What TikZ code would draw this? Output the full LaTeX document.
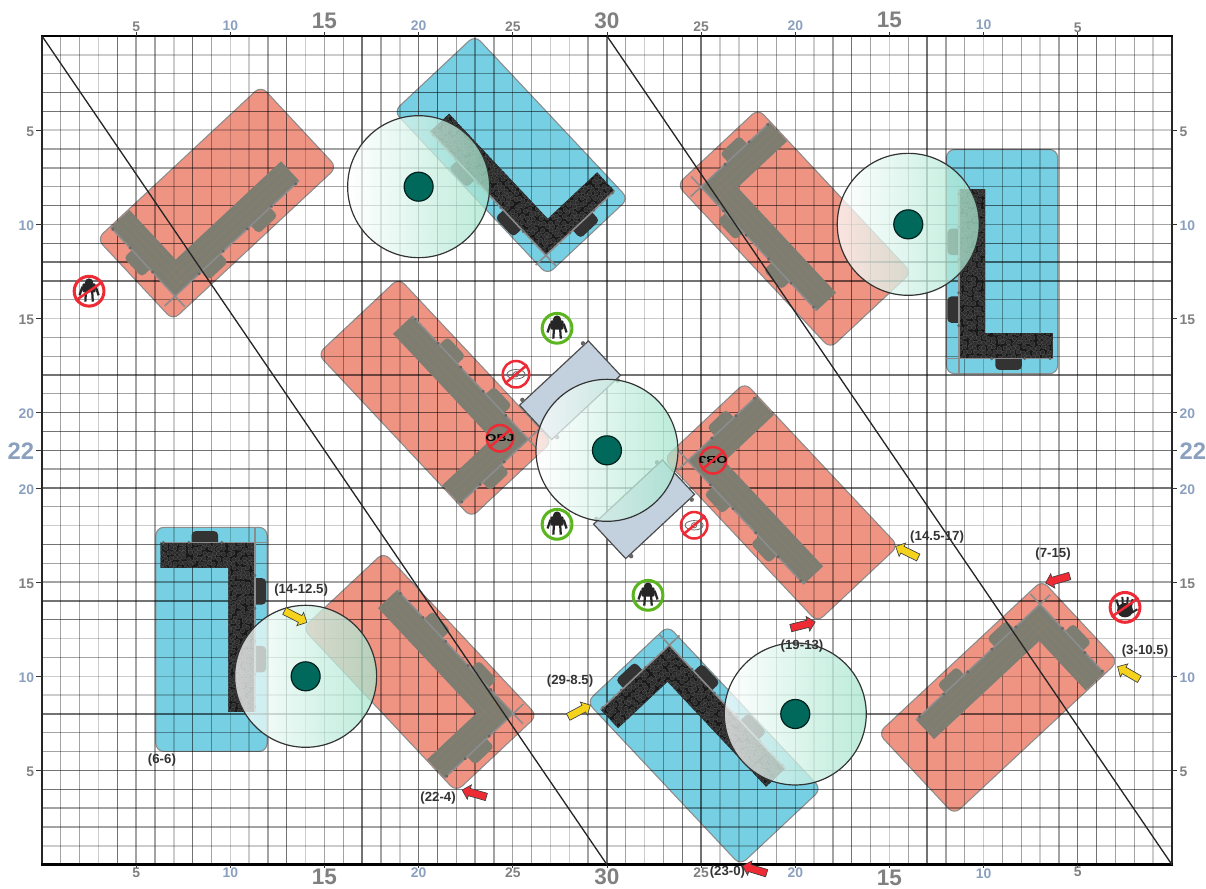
\documentclass[tikz,border=0pt]{standalone}
\usepackage{fontspec}
\setmainfont{Liberation Sans}
\usepackage{xcolor}
\usetikzlibrary{shapes.arrows}

\definecolor{salmon}{HTML}{EF9383}
\definecolor{lagoon}{HTML}{76CFE2}
\definecolor{numgray}{HTML}{808080}
\definecolor{numblue}{HTML}{8BA0BE}
\definecolor{darkteal}{HTML}{00695C}
\definecolor{mint}{HTML}{A6E5CE}
\definecolor{slab}{HTML}{C3D1DF}
\definecolor{floorgray}{HTML}{7D7D72}
\definecolor{flagred}{HTML}{EE2A35}
\definecolor{flaggreen}{HTML}{5AB51E}
\definecolor{flagyellow}{HTML}{F5D31C}

\tikzset{
  numsmall/.style={font=\bfseries\fontsize{10.5}{11}\selectfont, text=numgray, inner sep=0},
  numtint/.style={font=\bfseries\fontsize{10.5}{11}\selectfont, text=numblue, inner sep=0},
  numbig/.style={font=\bfseries\fontsize{17}{18}\selectfont, text=numgray, inner sep=0},
  numbigtint/.style={font=\bfseries\fontsize{18}{19}\selectfont, text=numblue, inner sep=0},
  poslabel/.style={font=\bfseries\fontsize{10}{11}\selectfont, text=black!80, inner sep=0},
  gridlight/.style={black, opacity=.2, line width=1.1pt},
  gridmid/.style={black, opacity=.36, line width=1pt},
  griddark/.style={black, opacity=.55, line width=1pt},
  okring/.style={circle, draw=flaggreen, line width=2.3pt, minimum size=22.5pt, inner sep=0},
  noring/.style={circle, draw=flagred, line width=2.3pt, minimum size=22.5pt, inner sep=0},
  nosmall/.style={circle, draw=flagred, line width=1.9pt, minimum size=20pt, inner sep=0},
  bar/.style={flagred, line width=1.9pt},
  marker/.style={single arrow, draw=black!75, line width=.5pt, inner xsep=0, inner ysep=2.6pt,
    minimum height=19pt, single arrow head extend=2.8pt},
  walker/.pic={
    \fill[black!85, rounded corners=1pt] (-.32,-.38) rectangle (.32,.06);
    \fill[black!85] (0,-.42) circle (.2);
    \draw[black!85, line width=1.7pt] (-.32,-.22) -- (-.46,.2) (.32,-.22) -- (.46,.2)
      (-.15,0) -- (-.18,.5) (.15,0) -- (.18,.5);
  },
  handprint/.pic={
    \fill[black!85] (0,.15) ellipse (.42 and .38);
    \draw[black!85, line width=1.5pt] (-.32,.05) -- (-.46,-.42) (-.11,0) -- (-.14,-.56)
      (.11,0) -- (.14,-.56) (.3,.05) -- (.4,-.44) (.32,.3) -- (.66,.1);
  },
  eyemark/.pic={
    \draw[black!60, line width=.6pt] (0,0) ellipse (.48 and .25);
    \draw[black!60, line width=.6pt] (0,0) circle (.14);
  }
}

\def\redlist{9.29/8.87/43, 39.94/10.23/-46.9, 20.87/19.21/133.2, 39.25/24.76/-46.8, 20.07/33.77/133.2, 50.77/35.12/223}
\def\bluelist{24.91/6.32/133.2, 50.98/11.98/90, 9/32.04/-90, 35.16/37.67/-46.8}
\def\lshape{(-5,-2.1) -- (4,-2.1) -- (4,-.7) -- (-3.65,-.7) -- (-3.65,2.9) -- (-5,2.9) -- cycle}
% outer wall, bolts and the buttresses of one L
\newcommand{\buttress}[1]{
  \fill[#1, rounded corners=3pt] (-3.1,-1.9) rectangle (-1.7,-2.7);
  \fill[#1, rounded corners=3pt] (.5,-1.9) rectangle (1.9,-2.7);
  \fill[#1, rounded corners=3pt] (-4.8,-.15) rectangle (-5.6,1.25);
}
\newcommand{\wallline}{
  \draw[black!45, line width=1.2pt] (-5.75,-2.1) -- (4,-2.1) (-5,-2.85) -- (-5,2.9);
  \foreach \u in {-3.25,-1.5,.25,2,3.75} \fill[black!60] (\u,-2.1) circle (.09);
  \foreach \v in {-.35,1.4,2.75} \fill[black!60] (-5,\v) circle (.09);
}

\begin{document}
\begin{tikzpicture}[x=.5cm, y=-.5cm]
\useasboundingbox (-2.23,-1.913) rectangle (61.81,45.27);

% terrain under the grid
\foreach \cx/\cy/\ang in \redlist
  \draw[fill=salmon, draw=black!45, line width=.8pt, rounded corners=6pt, shift={(\cx,\cy)}, rotate=\ang] (-5.95,-2.95) rectangle (5.95,2.95);
\foreach \cx/\cy/\ang in \bluelist
  \draw[fill=lagoon, draw=black!45, line width=.8pt, rounded corners=6pt, shift={(\cx,\cy)}, rotate=\ang] (-5.95,-2.95) rectangle (5.95,2.95);

% grid
\foreach \x in {3,7,10,11,14,19,27,28,32,36,37,41,45,50,53,59} \draw[gridlight] (\x,0) -- (\x,44);
\foreach \x in {1,2,5,6,9,12,15,16,18,22,23,24,25,26,29,31,33,38,39,40,42,44,46,48,49,51,52,54,57,58} \draw[gridmid] (\x,0) -- (\x,44);
\foreach \x in {4,8,13,17,20,21,30,34,35,43,47,55,56} \draw[griddark] (\x,0) -- (\x,44);
\foreach \y in {1,5,15,26,32,34,35,43} \draw[gridlight] (0,\y) -- (60,\y);
\foreach \y in {2,6,7,8,10,14,16,17,19,23,25,28,29,33,37,38,41,42} \draw[gridmid] (0,\y) -- (60,\y);
\foreach \y in {3,4,9,11,12,13,18,20,21,22,24,27,30,31,36,39,40} \draw[griddark] (0,\y) -- (60,\y);

% L blocks, plank floor on salmon and rubble on blue
\foreach \cx/\cy/\ang in \redlist {
  \begin{scope}[shift={(\cx,\cy)}, rotate=\ang, yscale=-1]
    \buttress{floorgray}
    \fill[floorgray] \lshape;
    \foreach \v in {-1.75,-1.4,-1.05} \draw[brown!55!gray, opacity=.5, line width=.4pt] (-4.6,\v) -- (3.8,\v);
    \foreach \u in {-4.6,-4.25,-3.9} \draw[brown!55!gray, opacity=.5, line width=.4pt] (\u,-1.9) -- (\u,2.7);
    \wallline
  \end{scope}
}
\pgfmathsetseed{7}
\foreach \cx/\cy/\ang in \bluelist {
  \begin{scope}[shift={(\cx,\cy)}, rotate=\ang]
    \begin{scope}[shift={(-.15,-.2)}]
    \buttress{black!80}
    \begin{scope}
      \clip \lshape;
      \fill[black!90] \lshape;
      \foreach \u in {-5,-4.74,...,4} \foreach \v in {-2.1,-1.84,-1.58,-1.32,-1.06,-.8}
        \draw[fill=black!82, draw=black!62, line width=.15pt] (\u+.14*rnd,\v+.14*rnd) circle (.12);
      \foreach \u in {-5,-4.74,-4.48,-4.22,-3.96,-3.7} \foreach \v in {-.54,-.28,...,2.9}
        \draw[fill=black!82, draw=black!62, line width=.15pt] (\u+.14*rnd,\v+.14*rnd) circle (.12);
    \end{scope}
    \wallline
    \end{scope}
  \end{scope}
}

% frame and the two long diagonals
\draw[black!85, line width=1.4pt] (0,0) rectangle (60,44);
\draw[black, line width=2.2pt] (-.05,0) -- (60.05,0) (-.05,44) -- (60.05,44);
\draw[black!85, line width=1pt] (0,0) -- (30,44) (30,0) -- (60,44);

% centre slabs
\foreach \cx/\cy in {28.04/18.81, 31.97/25.13} {
  \begin{scope}[shift={(\cx,\cy)}, rotate=43]
    \draw[fill=slab, draw=black!70, line width=.9pt] (-2.5,-1.25) rectangle (2.5,1.25);
    \foreach \u/\v in {-2.2/-1.35, 2.2/-1.35, -2.2/1.35, 2.2/1.35}
      \fill[black!60] (\u,\v) circle (.12);
  \end{scope}
}

% objective circles
\foreach \cx/\cy in {20/8, 46/10, 30/22, 14/34, 40/36} {
  \shade[left color=white, right color=mint, fill opacity=.75] (\cx,\cy) circle (3.77);
  \draw[black!80, line width=.9pt] (\cx,\cy) circle (3.77);
  \draw[fill=darkteal, draw=black!70!darkteal, line width=.9pt] (\cx,\cy) circle (.77);
}

% axis numbers
\foreach \x/\t/\s/\h in {5/5/numsmall/-.5, 10/10/numtint/-.55, 15/15/numbig/-.8, 20/20/numtint/-.55, 25/25/numsmall/-.5, 30/30/numbig/-.8, 35/25/numsmall/-.5, 40/20/numtint/-.55, 45/15/numbig/-.85, 50/10/numtint/-.6, 55/5/numsmall/-.45} {
  \draw[black!80, line width=.7pt] (\x,-.2) -- (\x,0) (\x,44) -- (\x,44.2);
  \node[\s] (top\x) at (\x,\h) {\t};
  \node[\s] (bot\x) at (\x,44-.82*\h) {\t};
}
\foreach \y/\t/\s in {5/5/numsmall, 10/10/numtint, 15/15/numsmall, 20/20/numtint, 22/22/numbigtint, 24/20/numtint, 29/15/numsmall, 34/10/numtint, 39/5/numsmall} {
  \draw[black!80, line width=.7pt] (-.3,\y) -- (0,\y) (60,\y) -- (60.25,\y);
  \node[\s, anchor=east] (lft\y) at (-.4,\y+.07) {\t};
  \node[\s, anchor=west] (rgt\y) at (60.4,\y+.07) {\t};
}

% rings
\foreach \n/\x/\y in {a/27.35/15.52, b/27.35/25.93, c/32.18/29.7} {
  \node[okring] (ok\n) at (\x,\y) {};
  \pic[scale=1.1] at (ok\n) {walker};
}
\node[noring] (nowalker) at (2.5,13.55) {};
\pic[scale=1.1] at (nowalker) {walker};
\draw[bar] (nowalker.215) -- (nowalker.35);
\node[noring] (nohand) at (57.51,30.34) {};
\pic at (nohand) {handprint};
\draw[bar] (nohand.215) -- (nohand.35);
\foreach \n/\x/\y in {a/25.17/17.96, b/34.63/25.98} {
  \node[nosmall] (noeye\n) at (\x,\y) {};
  \pic at (noeye\n) {eyemark};
  \draw[bar] (noeye\n.220) -- (noeye\n.40);
}
\foreach \n/\x/\y/\r in {a/24.32/21.36/0, b/35.63/22.53/180} {
  \node[nosmall] (noobj\n) at (\x,\y) {};
  \node[font=\bfseries\fontsize{7.5}{8}\selectfont, inner sep=0, xscale=1.4, rotate=\r] (obj\n) at (noobj\n) {OBJ};
  \draw[bar] (noobj\n.220) -- (noobj\n.40);
}

% deployment markers
\foreach \n/\x/\y/\ang in {a/13.38/30.79/-27, b/28.44/35.89/28, c/46.02/27.44/154, d/57.78/33.87/150}
  \node[marker, fill=flagyellow, rotate=\ang] (mark\n) at (\x,\y) {};
\foreach \n/\x/\y/\ang in {e/23.05/40.25/164, f/37.94/44.29/163, g/40.31/31.3/14, h/54.03/28.83/196}
  \node[marker, fill=flagred, rotate=\ang] (mark\n) at (\x,\y) {};

% corner coordinates
\foreach \n/\x/\y/\t in {p/13.76/29.44/(14-12.5), q/6.37/38.47/(6-6), r/21.03/40.44/(22-4), s/28.04/34.27/(29-8.5), t/36.4/44.42/(23-0), u/40.36/32.41/(19-13), v/47.53/26.62/(14.5-17), w/53.69/27.52/(7-15), x/58.57/32.68/(3-10.5)}
  \node[poslabel] (pos\n) at (\x,\y) {\t};
\end{tikzpicture}
\end{document}
